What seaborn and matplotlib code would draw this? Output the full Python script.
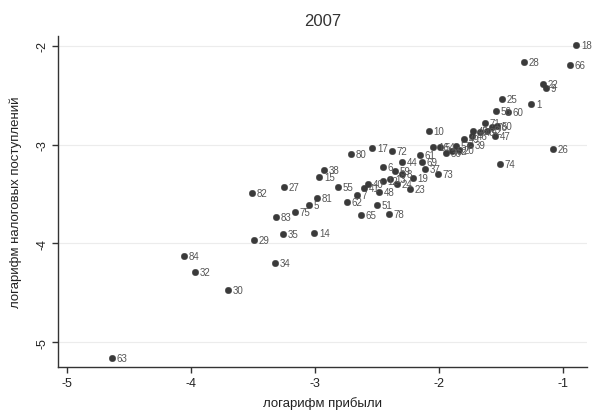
import matplotlib
matplotlib.use("Agg")
import matplotlib.pyplot as plt
import seaborn as sns
import pandas as pd

# log profit (x), log tax revenue (y) and region code for each observation, 2007
labels = [18, 28, 66, 22, 9, 1, 25, 56, 60, 71, 50, 76, 47, 42, 43, 45, 46, 49,
          39, 20, 52, 36, 16, 10, 26, 74, 17, 72, 80, 38, 15, 55, 81, 5, 75, 83,
          27, 82, 35, 14, 29, 84, 32, 30, 34, 63, 65, 78, 51, 62, 7, 41, 48, 23,
          19, 73, 37, 44, 61, 69, 6, 59, 8, 12, 13, 24, 40, 54, 57]
log_profit = [-0.895, -1.315, -0.944, -1.161, -1.137, -1.258, -1.492, -1.540, -1.444,
              -1.629, -1.532, -1.573, -1.548, -1.613, -1.669, -1.726, -1.734, -1.798,
              -1.750, -1.839, -1.895, -1.944, -2.048, -2.081, -1.081, -1.508, -2.540,
              -2.379, -2.710, -2.927, -2.968, -2.815, -2.984, -3.048, -3.161, -3.315,
              -3.250, -3.508, -3.258, -3.008, -3.492, -4.056, -3.968, -3.702, -3.323,
              -4.637, -2.629, -2.403, -2.500, -2.742, -2.661, -2.605, -2.484, -2.234,
              -2.210, -2.008, -2.113, -2.298, -2.153, -2.137, -2.452, -2.355, -2.298,
              -2.452, -2.395, -2.339, -2.573, -1.992, -1.863]
log_tax = [-1.99, -2.16, -2.19, -2.385, -2.425, -2.59, -2.54, -2.66, -2.67,
           -2.78, -2.81, -2.82, -2.91, -2.86, -2.87, -2.86, -2.91, -2.94,
           -3.00, -3.05, -3.06, -3.08, -3.02, -2.86, -3.04, -3.20, -3.03,
           -3.06, -3.10, -3.26, -3.33, -3.43, -3.54, -3.61, -3.68, -3.73,
           -3.43, -3.49, -3.91, -3.89, -3.97, -4.13, -4.29, -4.47, -4.20,
           -5.16, -3.71, -3.70, -3.61, -3.58, -3.51, -3.44, -3.48, -3.45,
           -3.34, -3.30, -3.25, -3.18, -3.11, -3.18, -3.23, -3.27, -3.30,
           -3.37, -3.35, -3.40, -3.40, -3.02, -3.01]

x_ticks = [-5, -4, -3, -2, -1]
y_ticks = [-2, -3, -4, -5]

df = pd.DataFrame({"x": log_profit, "y": log_tax, "lab": labels})

sns.set_theme(style="white")
plt.rcParams["font.family"] = ["Liberation Sans", "DejaVu Sans"]

fig = plt.figure(figsize=(5.96, 4.14), dpi=100)
ax = fig.add_axes([0.0973, 0.111, 0.8876, 0.80])

sns.scatterplot(data=df, x="x", y="y", ax=ax, color="#3a3a3a", s=22,
                edgecolor="#3a3a3a", linewidth=0.3, zorder=3)

for xv, yv, lab in zip(df["x"], df["y"], df["lab"]):
    ax.annotate(str(lab), (xv, yv), xytext=(3.5, 0), textcoords="offset points",
                ha="left", va="center", fontsize=7, color="#555555", zorder=4)

ax.set_xlim(-5.073, -0.806)
ax.set_ylim(-5.252, -1.899)
ax.set_xticks(x_ticks)
ax.set_yticks(y_ticks)
ax.set_xticklabels([str(t) for t in x_ticks], fontsize=9, color="#222222")
ax.set_yticklabels([str(t) for t in y_ticks], fontsize=9, color="#222222",
                   rotation=90, va="center")

ax.yaxis.grid(True, color="#ececec", linewidth=0.8)
ax.xaxis.grid(False)
ax.set_axisbelow(True)

for side in ["top", "right"]:
    ax.spines[side].set_visible(False)
for side in ["left", "bottom"]:
    ax.spines[side].set_color("#333333")
    ax.spines[side].set_linewidth(1.0)

ax.tick_params(axis="both", which="major", direction="out", length=4,
               width=1.0, color="#333333", bottom=True, left=True, pad=3)

ax.set_xlabel("логарифм прибыли", fontsize=9.5, color="#222222", labelpad=5)
ax.set_ylabel("логарифм налоговых поступлений", fontsize=9.5, color="#222222",
              labelpad=10)
ax.set_title("2007", fontsize=12, color="#333333", pad=8)

fig.savefig("out.png", dpi=100, facecolor="white")
